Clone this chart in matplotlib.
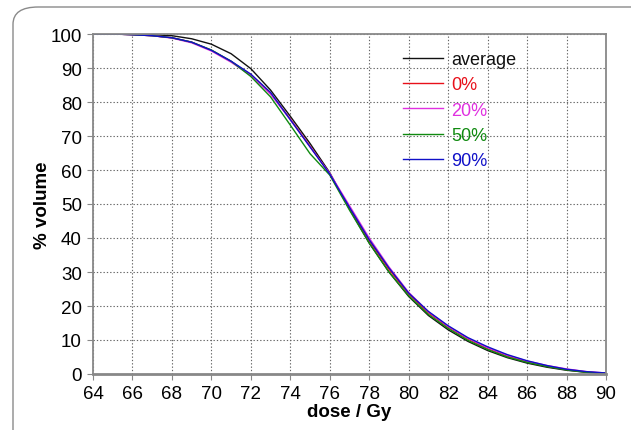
import matplotlib
matplotlib.use("Agg")
import matplotlib.pyplot as plt
from matplotlib.patches import FancyBboxPatch

# dose grid (Gy) and volume curves (%)
dose = [64, 65, 66, 67, 68, 69, 70, 71, 72, 73, 74, 75, 76, 77,
        78, 79, 80, 81, 82, 83, 84, 85, 86, 87, 88, 89, 90]

vol_average = [100, 100, 99.9, 99.8, 99.5, 98.6, 97.0, 94.2, 89.8, 83.5, 75.8, 67.8, 59.2, 48.5,
               38.5, 30.0, 22.8, 17.2, 13.0, 9.6, 6.9, 4.8, 3.2, 2.0, 1.1, 0.5, 0.2]
vol_0 = [100, 100, 99.8, 99.5, 98.9, 97.6, 95.2, 91.9, 88.0, 82.5, 75.0, 67.0, 58.8, 48.8,
         39.2, 30.8, 23.5, 18.0, 13.8, 10.3, 7.5, 5.3, 3.6, 2.3, 1.3, 0.6, 0.2]
vol_20 = [100, 100, 99.8, 99.5, 98.8, 97.4, 95.0, 91.7, 87.8, 82.3, 74.8, 66.8, 59.0, 49.5,
          40.0, 31.5, 24.0, 18.3, 14.0, 10.5, 7.7, 5.5, 3.8, 2.5, 1.5, 0.7, 0.3]
vol_50 = [100, 100, 99.8, 99.5, 98.9, 97.6, 95.3, 92.0, 87.5, 81.5, 73.2, 64.8, 58.5, 48.2,
          38.5, 30.0, 23.0, 17.5, 13.4, 9.9, 7.2, 5.0, 3.4, 2.2, 1.2, 0.5, 0.2]
vol_90 = [100, 100, 99.8, 99.5, 98.9, 97.6, 95.2, 92.0, 88.2, 82.8, 74.8, 66.8, 58.8, 49.0,
          39.5, 31.2, 23.8, 18.4, 14.2, 10.7, 8.0, 5.7, 3.9, 2.5, 1.4, 0.7, 0.3]

labels = ["average", "0%", "20%", "50%", "90%"]
colors = ["#111111", "#e8101a", "#e030e0", "#108a10", "#1010c8"]

plt.rcParams['font.family'] = ['Liberation Sans', 'DejaVu Sans']

fig = plt.figure(figsize=(6.31, 4.31), dpi=100)

# rounded frame around the figure
frame = FancyBboxPatch((13 / 631, -0.1), 1.2, (431 - 8) / 431 + 0.1,
                       boxstyle="round,pad=0,rounding_size=0.04",
                       transform=fig.transFigure, fill=False,
                       edgecolor="#8a8a8a", linewidth=1.0)
fig.patches.append(frame)

ax = fig.add_axes([93 / 631, 56 / 431, 513 / 631, 340 / 431])

series = [vol_average, vol_0, vol_20, vol_50, vol_90]
for vals, lab, col in zip(series, labels, colors):
    ax.plot(dose, vals, color=col, linewidth=1.0, label=lab)

ax.set_xlim(64, 90)
ax.set_ylim(0, 100)
ax.set_xticks(range(64, 91, 2))
ax.set_yticks(range(0, 101, 10))
ax.grid(True, linestyle=(0, (1.2, 1.8)), color="#666666", linewidth=0.8)

for s in ax.spines.values():
    s.set_color("#888888")
    s.set_linewidth(1.3)
ax.spines['bottom'].set_linewidth(2)
ax.tick_params(direction="out", length=4, color="#888888", labelsize=13.5, pad=4)

ax.set_xlabel("dose / Gy", fontsize=13.5, fontweight="bold", labelpad=1)
ax.set_ylabel("% volume", fontsize=13.5, fontweight="bold", labelpad=-0.5)

leg = ax.legend(loc="upper left", bbox_to_anchor=(0.604, 0.95), frameon=False,
                fontsize=13, handlelength=2.2, handletextpad=0.5, labelspacing=0.46,
                borderpad=0, borderaxespad=0)
for txt, col in zip(leg.get_texts(), colors):
    txt.set_color(col)

fig.savefig("out.png", dpi=100)
